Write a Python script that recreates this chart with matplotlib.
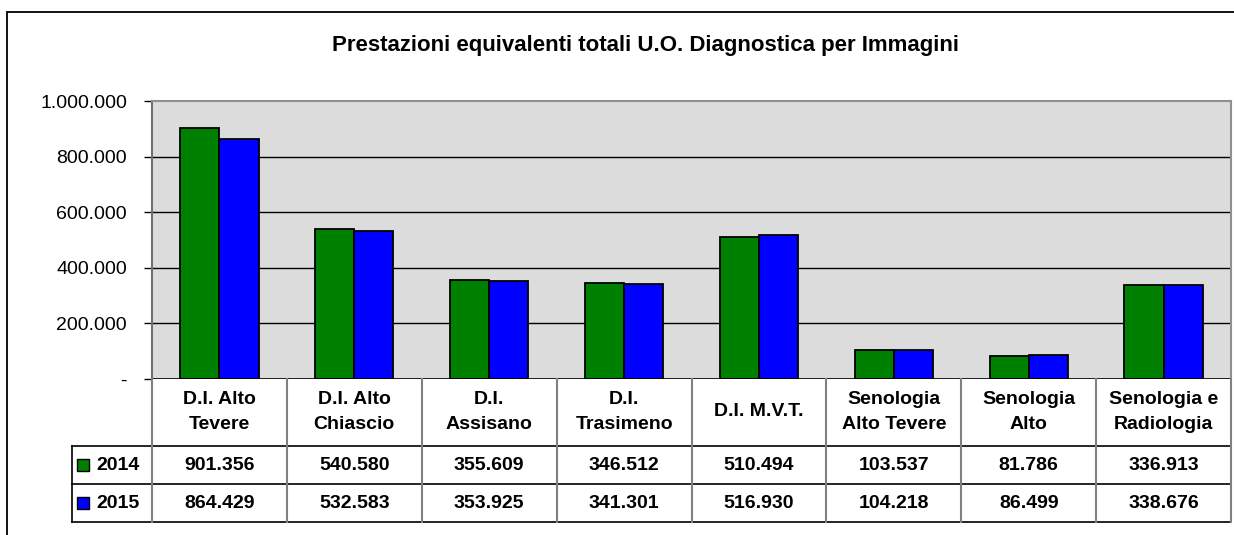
import numpy as np
import matplotlib
matplotlib.use('Agg')
import matplotlib.pyplot as plt
from matplotlib.ticker import FuncFormatter
from matplotlib.patches import Rectangle

plt.rcParams['font.family'] = ['Liberation Sans', 'DejaVu Sans']

# data
categories = ['D.I. Alto\nTevere', 'D.I. Alto\nChiascio', 'D.I.\nAssisano', 'D.I.\nTrasimeno',
              'D.I. M.V.T.', 'Senologia\nAlto Tevere', 'Senologia\nAlto', 'Senologia e\nRadiologia']
series_names = ['2014', '2015']
values_2014 = [901356, 540580, 355609, 346512, 510494, 103537, 81786, 336913]
values_2015 = [864429, 532583, 353925, 341301, 516930, 104218, 86499, 338676]
colors = ['#008000', '#0000FF']
title = 'Prestazioni equivalenti totali U.O. Diagnostica per Immagini'


def it_fmt(v):
    return f'{int(v):,}'.replace(',', '.')


W, H = 1234, 535
fs = 14
fig = plt.figure(figsize=(W / 100, H / 100), dpi=100)

# outer chart border (extends past right/bottom of the picture)
fig.add_artist(Rectangle((7 / W, -0.1), 1.2, (H - 12) / H + 0.1, transform=fig.transFigure,
                         fill=False, edgecolor='black', linewidth=1.3))

fig.text(645 / W, 1 - 45 / H, title, ha='center', va='center', fontsize=16, fontweight='bold')

# plot area in pixel coordinates
x0, x1, ytop, ybot = 152, 1231, 101, 379
ax = fig.add_axes([x0 / W, 1 - ybot / H, (x1 - x0) / W, (ybot - ytop) / H])
ax.set_facecolor('#DCDCDC')

n = len(categories)
x = np.arange(n)
bw = 0.29
ax.bar(x - bw / 2, values_2014, bw, color=colors[0], edgecolor='black', linewidth=1.3, zorder=3)
ax.bar(x + bw / 2, values_2015, bw, color=colors[1], edgecolor='black', linewidth=1.3, zorder=3)

ax.set_xlim(-0.5, n - 0.5)
ax.set_ylim(0, 1000000)
yt = np.arange(0, 1000001, 200000)
ax.set_yticks(yt)
ax.yaxis.set_major_formatter(FuncFormatter(lambda v, p: '-' if v == 0 else it_fmt(v)))
ax.tick_params(axis='y', length=6, width=1, labelsize=fs, pad=12, colors='black')
ax.tick_params(axis='x', length=0, labelbottom=False)
for v in yt[1:-1]:
    ax.axhline(v, color='black', linewidth=1, zorder=1)
ax.axhline(0, color='black', linewidth=1.2, zorder=4)
ax.spines['left'].set_color('#707070')
ax.spines['left'].set_linewidth(1.5)
ax.spines['top'].set_color('#909090')
ax.spines['top'].set_linewidth(1.5)
ax.spines['right'].set_color('#909090')
ax.spines['right'].set_linewidth(1.5)
ax.spines['bottom'].set_visible(False)

# data table below the plot area
tl, tb = 72, 522
rows_y = [379, 446, 484, 522]
tax = fig.add_axes([tl / W, 1 - tb / H, (x1 - tl) / W, (tb - ybot) / H])
cw = (x1 - x0) / n  # pixels per category
leg_w = (x0 - tl) / cw
tax.set_xlim(-0.5 - leg_w, n - 0.5)
tax.set_ylim(tb, ybot)
tax.axis('off')

# horizontal lines
for yy in rows_y[1:]:
    tax.plot([-0.5 - leg_w, n - 0.5], [yy, yy], color='black', linewidth=1.2, clip_on=False)
# vertical lines
for i in range(n + 1):
    tax.plot([i - 0.5, i - 0.5], [ybot, tb], color='#808080', linewidth=1.5, clip_on=False)
tax.plot([-0.5 - leg_w] * 2, [rows_y[1], tb], color='black', linewidth=1.2, clip_on=False)

for i, c in enumerate(categories):
    tax.text(i, (rows_y[0] + rows_y[1]) / 2 - 0.5, c, ha='center', va='center', fontsize=fs,
             fontweight='bold', linespacing=1.6)
for r, (vals, name, col) in enumerate(zip([values_2014, values_2015], series_names, colors)):
    yc = (rows_y[r + 1] + rows_y[r + 2]) / 2
    for i, v in enumerate(vals):
        tax.text(i, yc, it_fmt(v), ha='center', va='center', fontsize=fs, fontweight='bold')
    tax.add_patch(Rectangle((-0.5 - leg_w + 5 / cw, yc - 6), 12 / cw, 12,
                            facecolor=col, edgecolor='black', linewidth=1))
    tax.text(-0.5 - leg_w + 24 / cw, yc + 0.5, name, ha='left', va='center',
             fontsize=fs, fontweight='bold')

fig.savefig('out.png', dpi=100)
